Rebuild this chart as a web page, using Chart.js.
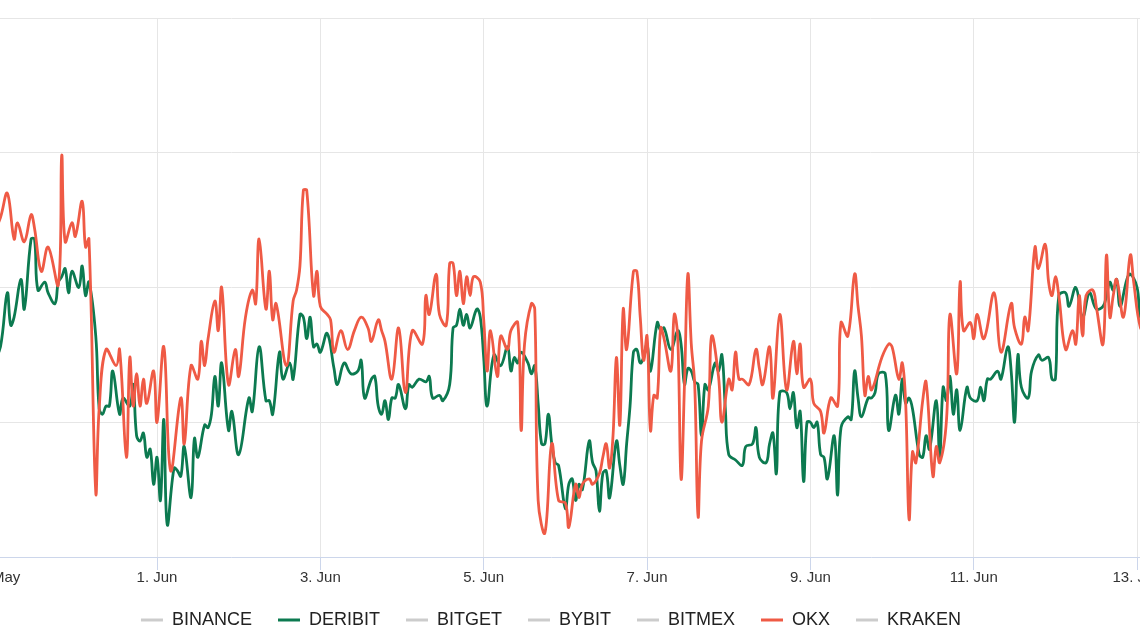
<!DOCTYPE html>
<html>
<head>
<meta charset="utf-8">
<title>DERIBIT / OKX</title>
<script src="https://cdn.jsdelivr.net/npm/chart.js@4.4.1/dist/chart.umd.min.js"></script>
<style>
    html, body { margin: 0; padding: 0; background: #ffffff; overflow: hidden; }
    /* the plot runs past both edges of the window, like the original crop */
    #wrap { position: absolute; left: -88px; top: 0; width: 1278px; height: 640px; }
</style>
</head>
<body>
<div id="wrap"><canvas id="chart" width="1278" height="640"></canvas></div>
<script>
// x values are hours since 30 May 00:00
var tickHours = [0, 48, 96, 144, 192, 240, 288, 336];
var tickLabels = ['30. May', '1. Jun', '3. Jun', '5. Jun', '7. Jun', '9. Jun', '11. Jun', '13. Jun'];

var exchanges = ['BINANCE', 'DERIBIT', 'BITGET', 'BYBIT', 'BITMEX', 'OKX', 'KRAKEN'];

var deribitHours = [
    0, 2, 4, 5, 6, 8, 9, 11, 12, 13,
    15, 16, 18, 19, 20, 21, 22, 23, 25, 26,
    27, 28, 30, 31, 32, 33, 34, 35, 37, 38,
    40, 41, 42, 43, 44, 45, 46, 47, 48, 49,
    50, 51, 53, 54, 55, 56, 58, 59, 60, 62,
    63, 64, 65, 66, 67, 69, 70, 72, 75, 76,
    78, 80, 81, 82, 84, 85, 87, 88, 90, 91,
    92, 93, 94, 95, 96, 98, 100, 101, 103, 105,
    107, 108, 109, 111, 112, 113, 114, 115, 116, 117,
    118, 119, 121, 122, 123, 125, 127, 128, 129, 131,
    132, 134, 135, 136, 137, 138, 139, 140, 142, 143,
    144, 145, 147, 149, 151, 152, 153, 154, 155, 157,
    158, 159, 160, 161, 162, 163, 164, 165, 166, 168,
    169, 170, 171, 172, 173, 175, 176, 177, 178, 179,
    180, 181, 183, 184, 185, 186, 187, 188, 189, 190,
    191, 192, 193, 195, 196, 197, 199, 201, 202, 203,
    204, 205, 206, 207, 208, 209, 210, 212, 213, 214,
    215, 216, 218, 220, 221, 223, 224, 225, 227, 228,
    229, 230, 231, 233, 234, 235, 236, 237, 238, 239,
    240, 241, 242, 243, 244, 245, 247, 248, 249, 251,
    252, 253, 254, 255, 257, 258, 259, 260, 262, 263,
    265, 266, 267, 268, 269, 270, 272, 273, 274, 275,
    277, 278, 279, 280, 281, 282, 283, 284, 286, 287,
    289, 290, 291, 292, 293, 295, 296, 298, 299, 300,
    301, 302, 304, 305, 307, 308, 310, 311, 312, 313,
    315, 316, 318, 320, 322, 324, 326, 327, 328, 329,
    330, 331, 333, 334, 336, 337, 339
];
var deribitValues = [
    7.2, 7.8, 9.8, 8.6, 8.9, 10.3, 9.2, 11.8, 11.8, 9.9,
    10.2, 9.8, 9.4, 10.2, 10.4, 10.7, 9.8, 10.6, 10.0, 10.8,
    9.7, 10.2, 8.2, 5.5, 5.3, 5.6, 5.6, 6.9, 5.3, 5.9,
    5.6, 6.4, 4.5, 4.3, 4.6, 3.7, 4.0, 2.7, 3.7, 2.1,
    5.1, 1.2, 3.3, 3.2, 3.0, 4.1, 2.2, 4.4, 3.7, 4.9,
    4.8, 5.3, 6.7, 5.6, 7.2, 4.7, 5.4, 3.8, 5.9, 5.4,
    7.8, 5.8, 5.8, 5.3, 7.6, 6.6, 7.2, 6.6, 9.0, 8.9,
    8.1, 8.9, 7.8, 7.9, 7.6, 8.3, 7.0, 6.4, 7.2, 6.8,
    6.9, 7.3, 5.9, 6.6, 6.7, 5.6, 5.3, 5.8, 5.1, 5.9,
    5.9, 6.4, 5.5, 6.4, 6.3, 6.6, 6.5, 6.7, 5.9, 6.0,
    5.8, 6.4, 8.5, 8.6, 9.2, 8.6, 9.0, 8.5, 9.2, 8.9,
    7.4, 5.6, 7.5, 7.1, 7.8, 6.9, 7.4, 7.2, 7.6, 7.2,
    6.8, 7.1, 5.7, 4.2, 4.2, 5.3, 4.2, 3.5, 3.4, 1.8,
    2.7, 2.9, 2.1, 2.7, 2.5, 4.3, 3.5, 3.2, 1.7, 3.1,
    3.2, 2.2, 4.3, 3.4, 2.7, 4.2, 5.6, 7.6, 7.7, 7.2,
    7.4, 7.9, 6.9, 8.7, 8.4, 8.5, 7.7, 8.4, 7.9, 6.4,
    7.0, 6.9, 6.5, 6.4, 4.5, 6.4, 6.2, 7.2, 6.9, 7.5,
    5.5, 3.8, 3.6, 3.4, 4.1, 4.2, 4.8, 3.7, 3.5, 4.2,
    4.6, 3.1, 6.1, 6.1, 5.5, 6.1, 4.8, 5.4, 2.8, 5.0,
    5.0, 4.8, 5.0, 3.8, 3.7, 2.9, 4.5, 2.3, 4.8, 5.2,
    5.1, 6.9, 5.9, 5.2, 5.9, 5.9, 6.1, 6.8, 6.8, 4.7,
    6.0, 5.3, 6.6, 5.7, 5.9, 5.5, 3.8, 3.7, 4.5, 4.0,
    5.8, 3.7, 6.3, 5.8, 6.7, 5.3, 6.2, 4.7, 6.3, 5.9,
    5.8, 6.3, 5.8, 6.6, 6.6, 6.9, 6.6, 7.8, 6.9, 5.0,
    7.5, 6.3, 5.9, 6.9, 7.5, 7.3, 7.4, 6.6, 6.6, 9.7,
    9.8, 9.3, 10.0, 8.9, 9.8, 9.2, 9.3, 9.7, 10.2, 9.9,
    10.3, 9.3, 10.3, 10.5, 10.0, 8.9, 8.5
];

var okxHours = [
    0, 2, 4, 6, 7, 9, 11, 12, 14, 16,
    19, 20, 21, 23, 24, 26, 27, 28, 30, 31,
    33, 36, 37, 39, 40, 41, 42, 43, 44, 45,
    47, 48, 50, 52, 55, 56, 58, 60, 61, 62,
    63, 65, 66, 67, 69, 71, 72, 74, 76, 77,
    78, 80, 81, 82, 83, 86, 88, 89, 90, 91,
    92, 94, 95, 96, 98, 99, 100, 102, 104, 106,
    108, 110, 111, 113, 114, 115, 117, 119, 121, 123,
    126, 127, 128, 130, 131, 133, 134, 135, 136, 137,
    138, 139, 140, 141, 143, 144, 145, 146, 148, 149,
    151, 152, 154, 155, 156, 158, 159, 160, 162, 164,
    166, 168, 169, 171, 172, 173, 175, 176, 178, 179,
    180, 181, 182, 183, 184, 185, 186, 188, 189, 190,
    191, 192, 193, 194, 195, 196, 197, 199, 200, 201,
    202, 203, 204, 205, 206, 207, 208, 210, 211, 213,
    214, 216, 217, 218, 219, 220, 222, 224, 225, 226,
    228, 229, 231, 233, 235, 236, 237, 238, 240, 241,
    243, 244, 246, 248, 249, 251, 253, 254, 255, 256,
    257, 258, 261, 263, 264, 266, 267, 268, 269, 270,
    271, 273, 274, 276, 277, 278, 280, 281, 283, 284,
    285, 287, 288, 289, 291, 294, 296, 299, 300, 302,
    303, 304, 306, 307, 309, 310, 311, 312, 313, 315,
    317, 318, 319, 320, 321, 323, 324, 326, 327, 328,
    329, 330, 332, 334, 335, 337, 339
];
var okxValues = [
    12.0, 12.6, 13.5, 11.8, 12.4, 11.7, 12.7, 12.2, 10.6, 11.5,
    10.1, 14.9, 11.7, 12.4, 11.9, 13.2, 11.5, 11.8, 2.4, 5.5,
    7.7, 7.1, 7.7, 3.7, 7.4, 5.6, 6.8, 5.6, 6.6, 5.7,
    6.9, 5.0, 7.8, 3.2, 5.9, 4.2, 7.1, 6.6, 8.0, 7.1,
    8.1, 9.5, 8.4, 10.0, 6.4, 7.7, 6.7, 8.9, 9.9, 9.4,
    11.8, 9.2, 10.6, 8.8, 9.4, 7.1, 9.5, 9.9, 10.8, 13.6,
    13.6, 9.7, 10.6, 9.3, 9.0, 8.8, 7.6, 8.4, 7.7, 8.4,
    8.9, 8.5, 8.0, 8.8, 8.4, 8.0, 6.6, 8.5, 6.1, 8.4,
    7.9, 9.7, 9.0, 10.5, 9.0, 8.6, 10.9, 10.9, 9.7, 10.6,
    9.4, 10.4, 9.7, 10.4, 10.2, 8.8, 6.9, 8.4, 6.7, 8.2,
    7.7, 8.4, 8.7, 4.7, 7.9, 9.4, 9.2, 2.1, 0.9, 4.2,
    2.1, 2.0, 1.1, 2.7, 2.2, 2.7, 2.9, 2.7, 3.1, 3.7,
    4.2, 3.3, 4.5, 7.4, 4.9, 9.2, 7.7, 10.6, 10.6, 8.9,
    7.3, 8.2, 4.7, 6.0, 5.9, 8.5, 8.1, 6.9, 9.0, 8.2,
    2.9, 6.4, 10.5, 7.9, 6.4, 1.5, 4.3, 5.6, 8.2, 6.7,
    5.0, 6.6, 6.2, 7.6, 6.6, 6.6, 6.4, 7.7, 7.0, 6.4,
    7.8, 5.9, 9.0, 6.2, 8.0, 6.8, 7.9, 6.3, 6.6, 5.7,
    5.4, 4.6, 5.9, 5.6, 8.7, 8.2, 10.5, 9.3, 8.2, 6.0,
    6.7, 6.2, 7.4, 7.9, 7.8, 6.6, 7.2, 5.7, 1.4, 3.9,
    3.5, 5.8, 6.5, 3.0, 4.1, 3.5, 5.1, 9.0, 6.8, 10.2,
    8.4, 8.7, 8.1, 9.0, 8.1, 9.8, 7.6, 9.4, 8.5, 7.9,
    8.9, 8.4, 11.5, 10.7, 11.6, 10.2, 9.7, 10.4, 9.7, 7.7,
    8.4, 7.9, 9.7, 8.2, 9.7, 9.9, 9.3, 7.9, 11.2, 8.9,
    9.7, 10.3, 8.9, 11.2, 10.2, 8.5, 8.2
];

// the other exchanges have no values in this window
var binanceValues = [];
var bitgetValues = [];
var bybitValues = [];
var bitmexValues = [];
var krakenValues = [];

var lineColors = {
    BINANCE: '#cccccc', DERIBIT: '#0c7a50', BITGET: '#cccccc', BYBIT: '#cccccc',
    BITMEX: '#cccccc', OKX: '#ef5a45', KRAKEN: '#cccccc'
};

function toPoints(hours, values) {
    var pts = [];
    for (var i = 0; i < values.length; i++) {
        pts.push({x: hours[i], y: values[i]});
    }
    return pts;
}

var seriesData = {
    BINANCE: binanceValues,
    DERIBIT: toPoints(deribitHours, deribitValues),
    BITGET: bitgetValues,
    BYBIT: bybitValues,
    BITMEX: bitmexValues,
    OKX: toPoints(okxHours, okxValues),
    KRAKEN: krakenValues
};

var datasets = exchanges.map(function (name) {
    return {
        label: name,
        data: seriesData[name],
        borderColor: lineColors[name],
        backgroundColor: lineColors[name],
        borderWidth: 2.8,
        borderJoinStyle: 'round',
        borderCapStyle: 'round',
        pointRadius: 0,
        pointHoverRadius: 0,
        tension: 0.4,
        fill: false,
        order: name === 'OKX' ? 0 : 1
    };
});

Chart.defaults.font.family = '"Liberation Sans", Arial, sans-serif';

var ctx = document.getElementById('chart').getContext('2d');
var chart = new Chart(ctx, {
    type: 'line',
    data: {datasets: datasets},
    options: {
        responsive: false,
        animation: false,
        devicePixelRatio: 1,
        layout: {padding: {top: 18, bottom: 1, left: 0, right: 0}},
        scales: {
            x: {
                type: 'linear',
                min: -24,
                max: 351.55,
                afterBuildTicks: function (scale) {
                    scale.ticks = tickHours.map(function (h) { return {value: h}; });
                },
                ticks: {
                    autoSkip: false,
                    maxRotation: 0,
                    padding: 0,
                    color: '#333333',
                    font: {size: 15, lineHeight: 1},
                    callback: function (value) {
                        return tickLabels[tickHours.indexOf(value)];
                    }
                },
                grid: {color: '#e6e6e6', tickColor: '#ccd6eb', tickLength: 13},
                border: {color: '#ccd6eb', width: 1}
            },
            y: {
                min: 0,
                max: 20,
                ticks: {stepSize: 5, display: false},
                grid: {
                    drawTicks: false,
                    color: function (c) { return c.tick && c.tick.value === 0 ? 'rgba(0,0,0,0)' : '#e6e6e6'; }
                },
                border: {display: false}
            }
        },
        plugins: {
            tooltip: {enabled: false},
            legend: {
                position: 'bottom',
                labels: {
                    boxWidth: 22,
                    boxHeight: 3,
                    padding: 26,
                    color: '#222222',
                    font: {size: 18},
                    sort: function (a, b) { return a.datasetIndex - b.datasetIndex; },
                    generateLabels: function (chart) {
                        var items = Chart.defaults.plugins.legend.labels.generateLabels(chart);
                        items.forEach(function (it) {
                            it.fillStyle = it.strokeStyle;
                            it.lineWidth = 0;
                        });
                        return items;
                    }
                }
            }
        }
    }
});
</script>
</body>
</html>
